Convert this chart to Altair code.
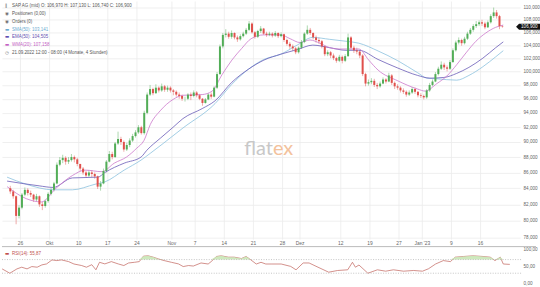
import altair as alt
import pandas as pd

# ---------------- data ----------------
first_open = 84.0
# two bars per trading day, day 0 = 22.09.2022
closes = [
    83.6, 83.0, 80.6, 81.6, 83.2, 83.8, 83.4, 83.2, 82.6, 83.0,
    82.0, 81.8, 82.4, 83.3, 83.8, 84.6, 87.0, 87.6, 87.9, 87.4,
    87.6, 88.0, 87.7, 87.1, 86.5, 86.0, 85.6, 86.0, 85.8, 85.5,
    84.2, 84.6, 86.2, 87.4, 88.4, 88.0, 89.8, 90.4, 90.0, 89.0,
    89.6, 90.2, 90.8, 91.3, 92.0, 91.2, 94.0, 96.6, 97.4, 96.8,
    97.6, 97.2, 97.8, 97.3, 97.6, 97.2, 97.0, 96.6, 96.4, 96.0,
    96.0, 96.6, 96.4, 96.9, 96.5, 96.0, 95.4, 95.9, 96.6, 96.3,
    97.6, 99.6, 103.8, 105.6, 105.8, 105.3, 105.9, 105.2, 104.9, 105.4,
    105.8, 106.4, 107.4, 106.0, 105.3, 106.2, 106.6, 105.8, 105.6, 105.8,
    105.5, 105.9, 105.4, 105.7, 104.8, 104.2, 103.8, 103.5, 102.9, 103.6,
    104.5, 105.8, 106.4, 105.9, 105.2, 104.8, 104.6, 103.8, 102.6, 102.9,
    102.4, 102.0, 101.6, 102.2, 101.6, 102.3, 105.2, 103.6, 103.2, 103.0,
    102.4, 99.6, 98.2, 98.4, 98.6, 98.0, 97.8, 98.2, 98.8, 98.5,
    99.4, 98.3, 97.8, 97.6, 97.2, 97.0, 96.6, 96.9, 97.4, 97.0,
    96.5, 96.4, 96.2, 97.2, 98.0, 98.5, 99.6, 100.4, 101.0, 100.6,
    100.4, 101.4, 103.2, 104.4, 104.8, 104.3, 105.0, 105.8, 106.4, 107.0,
    107.3, 107.6, 107.4, 106.8, 107.6, 108.6, 109.2, 108.6, 106.97, 106.9,
]
highs = [
    84.3, 83.8, 83.1, 81.9, 83.4, 84.1, 84.0, 83.7, 83.3, 83.3,
    83.1, 82.3, 82.6, 83.5, 84.0, 84.8, 87.3, 88.0, 88.3, 88.1,
    88.0, 88.4, 88.2, 87.9, 87.1, 86.7, 86.2, 86.3, 86.3, 86.0,
    85.6, 84.9, 86.5, 87.6, 88.8, 88.7, 90.0, 91.4, 90.7, 90.2,
    89.9, 90.5, 91.1, 91.6, 92.3, 92.2, 94.3, 96.9, 98.0, 97.6,
    98.1, 97.8, 98.2, 98.0, 97.9, 97.8, 97.4, 97.2, 96.9, 96.6,
    96.3, 96.8, 96.9, 97.2, 97.1, 96.7, 96.1, 96.1, 96.8, 96.9,
    97.8, 99.9, 104.1, 105.9, 106.5, 106.1, 106.3, 106.0, 105.5, 105.7,
    106.1, 106.7, 107.8, 107.6, 106.2, 106.4, 107.0, 106.7, 106.1, 106.1,
    106.0, 106.2, 106.0, 106.0, 105.8, 105.0, 104.5, 104.1, 103.7, 103.8,
    104.8, 106.0, 107.1, 106.7, 106.0, 105.5, 105.2, 104.8, 103.9, 103.2,
    103.1, 102.7, 102.2, 102.5, 102.4, 102.6, 105.8, 105.4, 103.9, 103.6,
    103.2, 102.6, 99.8, 98.8, 99.0, 98.9, 98.3, 98.5, 99.1, 99.0,
    99.8, 99.6, 98.5, 98.1, 97.8, 97.5, 97.2, 97.2, 97.7, 97.6,
    97.1, 96.8, 96.6, 97.4, 98.3, 98.8, 99.9, 100.7, 101.5, 101.3,
    100.9, 101.7, 103.5, 104.7, 105.2, 105.0, 105.3, 106.1, 106.7, 107.3,
    107.8, 107.9, 108.0, 107.7, 107.9, 108.9, 110.0, 109.6, 108.8, 107.13,
]
lows = [
    83.3, 82.7, 79.6, 80.3, 81.4, 83.0, 83.1, 82.9, 82.3, 82.4,
    81.7, 81.3, 81.6, 82.2, 83.1, 83.6, 84.5, 86.8, 87.2, 87.0,
    87.1, 87.4, 87.3, 86.8, 86.2, 85.7, 85.3, 85.4, 85.4, 85.2,
    83.9, 83.7, 84.5, 86.0, 87.3, 87.7, 87.9, 89.6, 89.6, 88.7,
    88.8, 89.3, 90.0, 90.6, 91.1, 91.0, 91.0, 93.8, 96.4, 96.5,
    96.7, 96.9, 97.0, 97.0, 97.0, 96.9, 96.5, 96.3, 96.0, 95.7,
    95.6, 95.8, 95.8, 96.2, 96.2, 95.8, 95.0, 95.3, 95.8, 96.0,
    96.2, 97.4, 99.5, 103.5, 105.2, 105.0, 105.0, 104.9, 104.5, 104.7,
    105.2, 105.6, 106.2, 105.8, 105.0, 105.1, 105.9, 105.6, 105.3, 105.4,
    105.2, 105.3, 105.1, 105.2, 104.5, 103.9, 103.4, 103.1, 102.6, 102.7,
    103.4, 104.3, 105.6, 105.6, 104.9, 104.4, 104.2, 103.5, 102.3, 102.3,
    102.0, 101.7, 101.3, 101.4, 101.2, 101.4, 102.2, 103.3, 102.8, 102.6,
    102.0, 99.3, 97.8, 97.9, 98.1, 97.7, 97.4, 97.6, 98.1, 98.2,
    98.4, 98.0, 97.4, 97.3, 96.9, 96.7, 96.3, 96.4, 96.7, 96.7,
    96.2, 96.1, 95.9, 96.0, 97.0, 97.8, 98.4, 99.4, 100.2, 100.2,
    100.0, 100.2, 101.3, 103.0, 104.1, 103.9, 104.1, 104.8, 105.6, 106.1,
    106.7, 107.0, 107.0, 106.5, 106.7, 107.4, 108.3, 108.2, 106.5, 106.74,
]

wma_days = [-0.3, 3.0, 5.6, 8.1, 10.9, 13.1, 16.0, 18.1, 20.2, 22.0, 23.2, 24.3, 26.0, 28.2,
            29.9, 33.2, 34.9, 36.6, 38.3, 40.0, 41.6, 43.8, 46.7, 48.3, 50.0, 51.7, 53.4,
            55.1, 56.7, 60.1, 61.8, 63.4, 66.8, 70.2, 71.5, 73.5, 75.2, 76.9, 78.5, 80.2,
            81.9, 83.6, 84.9]
wma_vals = [84.2, 82.7, 82.3, 84.0, 85.6, 86.3, 86.1, 87.2, 88.0, 89.2, 90.2, 92.4, 94.3, 95.9,
            96.5, 96.6, 97.1, 99.5, 101.7, 103.5, 105.0, 105.6, 105.6, 105.0, 104.4, 104.8, 104.3,
            103.6, 103.4, 103.4, 101.7, 100.2, 98.6, 97.4, 97.1, 98.2, 99.3, 101.0, 102.8, 104.6,
            105.9, 106.8, 107.158]

ema_days = [-0.3, 5.2, 7.6, 10.9, 15.3, 16.5, 19.8, 22.7, 23.7, 26.0, 28.2, 29.9, 33.2, 35.4,
            38.3, 41.1, 43.8, 46.7, 49.5, 52.2, 55.1, 57.9, 60.1, 63.4, 66.8, 70.2, 72.3,
            74.7, 76.9, 79.0, 81.4, 83.6, 84.9]
ema_vals = [84.9, 84.3, 84.1, 85.3, 85.4, 86.0, 87.2, 88.0, 88.9, 90.5, 92.0, 93.2, 94.6, 95.7,
            98.4, 100.3, 101.7, 102.6, 103.3, 104.0, 103.6, 103.2, 103.2, 101.8, 100.5, 99.4, 99.0,
            99.1, 99.7, 100.6, 102.0, 103.6, 104.505]

sma_days = [-0.3, 3.0, 7.6, 10.9, 14.8, 16.5, 19.8, 22.7, 24.3, 26.5, 29.9, 35.4, 38.3, 41.1,
            43.8, 46.7, 49.5, 52.2, 55.1, 57.9, 60.1, 63.4, 66.8, 70.2, 71.8, 73.5, 76.9,
            79.0, 81.4, 83.6, 84.9]
sma_vals = [85.4, 84.5, 83.8, 83.8, 84.5, 84.8, 86.3, 87.6, 88.5, 89.8, 91.9, 95.3, 98.1, 100.3,
            101.8, 102.6, 104.0, 105.2, 104.9, 104.6, 104.3, 103.1, 101.6, 99.8, 99.0, 98.9, 98.7,
            99.4, 100.7, 102.2, 103.141]

rsi_days = [-0.3, 1.0, 2.2, 3.0, 3.9, 4.7, 5.6, 6.4, 7.2, 8.1, 8.9, 9.7, 10.9, 11.8, 13.1, 13.9,
            14.8, 15.5, 16.1, 17.0, 18.1, 19.3, 20.2, 21.0, 22.0, 22.8, 23.5, 24.3, 25.2, 26.0,
            27.0, 28.2, 29.4, 30.2, 31.1, 31.9, 33.2, 34.4, 34.9, 35.8, 36.6, 37.8, 38.8, 40.0,
            40.8, 41.6, 42.5, 43.3, 44.1, 45.0, 46.7, 48.3, 49.2, 50.4, 51.4, 52.9, 54.7, 56.2,
            57.9, 58.7, 59.2, 59.8, 61.3, 62.9, 64.3, 65.6, 67.3, 69.0, 70.5, 71.5, 72.7, 74.0,
            75.2, 76.0, 77.4, 79.0, 80.7, 81.9, 82.7, 83.6, 84.1, 85.2]
rsi_vals = [42.7, 30.0, 42.7, 47.6, 42.7, 49.5, 47.6, 54.4, 57.3, 69.0, 67.0, 69.0, 64.0, 57.0, 52.5, 47.6,
            55.0, 40.0, 62.0, 57.3, 64.0, 57.0, 52.5, 60.0, 62.0, 64.0, 80.0, 81.0, 76.7, 72.0,
            67.0, 62.0, 57.3, 49.5, 52.5, 51.0, 60.0, 57.0, 64.0, 79.0, 81.0, 77.0, 77.0, 73.0,
            79.0, 69.0, 57.0, 62.0, 57.0, 57.0, 57.0, 50.0, 40.0, 60.0, 60.0, 47.6, 33.0, 38.0,
            40.0, 62.0, 47.6, 54.0, 30.0, 40.0, 36.0, 40.0, 36.0, 38.0, 36.0, 43.0, 57.0, 67.0,
            64.0, 77.0, 79.0, 81.0, 79.0, 77.0, 67.0, 77.0, 57.0, 55.87]

tick_days = [2, 7, 12, 17, 22, 28, 32, 37, 42, 47, 50, 57, 62, 67, 71, 76, 81]
tick_labels = ["26", "Okt", "10", "17", "24", "Nov", "7", "14", "21", "28", "Dez",
               "12", "19", "27", "Jan '23", "9", "16"]
price_ticks = list(range(78, 111, 2))
rsi_ticks = [0, 50, 100]
rsi_levels = [70, 30]

legend_rows = [
    ("‖", "SAP AG (mid)  O: 106,970  H: 107,130  L: 106,740  C: 106,900", "#666666", "#555555"),
    ("◉", "Positionen (0,00)", "#666666", "#555555"),
    ("◉", "Orders (0)", "#666666", "#555555"),
    ("▬", "SMA(50): 103,141", "#6aaad0", "#6aaad0"),
    ("▬", "EMA(50): 104,505", "#5f4fb0", "#5f4fb0"),
    ("▬", "WMA(20): 107,158", "#c462c4", "#c462c4"),
    ("◷", "21.09.2022 12:00 - 08:00  (4 Monate, 4 Stunden)", "#666666", "#555555"),
]
legend_y = [4.7, 12.5, 20.3, 28.1, 35.9, 43.7, 51.5]

# ---------------- build ----------------
FONT = "Liberation Sans"
W, H1, H2 = 520, 246, 41
GREEN, RED = "#52ad57", "#e0504c"

n = len(closes)
opens = [first_open] + closes[:-1]
bars = pd.DataFrame({
    "t": [i // 2 + 0.25 + 0.5 * (i % 2) for i in range(n)],
    "open": opens, "close": closes,
    "high": [max(h, o, c) for h, o, c in zip(highs, opens, closes)],
    "low": [min(l, o, c) for l, o, c in zip(lows, opens, closes)],
})

xs = alt.Scale(domain=[-0.32, 86.93], nice=False, zero=False)
ys = alt.Scale(type="log", domain=[76.99, 110.99], nice=False, zero=False)
rs = alt.Scale(domain=[-11.7, 107.9], nice=False, zero=False)
X = alt.X("t:Q", scale=xs, axis=None)
candle_col = alt.condition("datum.close >= datum.open", alt.value(GREEN), alt.value(RED))

price_axis = alt.Axis(
    orient="right", values=price_ticks, grid=True, gridColor="#ebebeb", gridWidth=0.8,
    domain=False, ticks=False, labelFontSize=4.6, labelColor="#666666", labelFont=FONT,
    labelPadding=3, title=None,
    labelExpr="replace(format(datum.value, '.3f'), '.', ',')",
)
rsi_axis = alt.Axis(orient="right", values=rsi_ticks, grid=False, domain=False, ticks=False,
                    labelFontSize=4.6, labelColor="#666666", labelFont=FONT, labelPadding=3,
                    title=None, labelExpr="replace(format(datum.value, '.2f'), '.', ',')")


def PY(field):
    return alt.Y(field, scale=ys, axis=price_axis)


def RY(field):
    return alt.Y(field, scale=rs, axis=rsi_axis)


wicks = alt.Chart(bars).mark_rule(strokeWidth=0.6, opacity=0.8).encode(
    x=X, y=PY("low:Q"), y2="high:Q", color=candle_col)
bodies = alt.Chart(bars).mark_bar(width=2).encode(
    x=X, y=PY("open:Q"), y2="close:Q", color=candle_col)

vgrid = alt.Chart(pd.DataFrame({"t": tick_days})).mark_rule(color="#ebebeb", strokeWidth=0.8).encode(
    x=X, y=alt.value(0), y2=alt.value(239))

wm = pd.DataFrame({"a": ["flat"], "b": ["ex"]})
wm1 = alt.Chart(wm).mark_text(align="right", baseline="middle", fontSize=20, font="Lato",
                              color="#c8c8c8").encode(
    text="a:N", x=alt.value(272), y=alt.value(148))
wm2 = alt.Chart(wm).mark_text(align="left", baseline="middle", fontSize=20, font="Lato",
                              color="#f3c29c").encode(
    text="b:N", x=alt.value(272), y=alt.value(148))


def ma_line(days, vals, color):
    d = pd.DataFrame({"t": days, "v": vals})
    return alt.Chart(d).mark_line(interpolate="monotone", strokeWidth=0.8, color=color).encode(
        x=X, y=PY("v:Q"))


sma_l = ma_line(sma_days, sma_vals, "#8cc2de")
ema_l = ma_line(ema_days, ema_vals, "#6a5cb8")
wma_l = ma_line(wma_days, wma_vals, "#cc78cc")

xlab = alt.Chart(pd.DataFrame({"t": tick_days, "l": tick_labels})).mark_text(
    fontSize=4.9, font=FONT, color="#666666", baseline="middle").encode(
    x=X, y=alt.value(243), text="l:N")


def txt(s, x, y, color, size=4.5, font=FONT, align="left"):
    return alt.Chart(pd.DataFrame({"s": [s]})).mark_text(
        align=align, baseline="middle", fontSize=size, font=font, color=color).encode(
        text="s:N", x=alt.value(x), y=alt.value(y))


leg = []
for (icon, s, icol, tcol), y in zip(legend_rows, legend_y):
    leg.append(txt(icon, 3, y, icol, size=4.5, font="DejaVu Sans"))
    leg.append(txt(s, 10, y, tcol))

last = pd.DataFrame({"p": [closes[-1]], "s": [f"{closes[-1]:.3f}".replace(".", ",")]})
tag = alt.Chart(last).mark_point(
    shape="M-1,0 L-0.75,-0.25 L1,-0.25 L1,0.25 L-0.75,0.25 Z", size=576, filled=True,
    color="#111111", opacity=1, strokeWidth=0).encode(
    x=alt.value(528), y=PY("p:Q"))
tagtxt = alt.Chart(last).mark_text(align="left", baseline="middle", fontSize=4.6, font=FONT,
                                   color="white").encode(
    x=alt.value(521), y=PY("p:Q"), text="s:N")

price = alt.layer(wicks, vgrid, wm1, wm2, sma_l, ema_l, wma_l, bodies, xlab, *leg, tag, tagtxt
                  ).properties(width=W, height=H1)

# RSI panel
rsi = pd.DataFrame({"t": rsi_days, "r": rsi_vals})
rsi["hi"] = [max(v, 70) for v in rsi_vals]
sep = alt.Chart(pd.DataFrame({"a": [0]})).mark_rule(color="#a8a8a8", strokeWidth=0.8).encode(
    y=alt.value(0), x=alt.value(0), x2=alt.value(536))
lev = alt.Chart(pd.DataFrame({"v": rsi_levels})).mark_rule(
    color="#a0a0a0", strokeWidth=0.6, strokeDash=[1, 1.5]).encode(
    y=RY("v:Q"), x=alt.value(0), x2=alt.value(522))
rarea = alt.Chart(rsi).mark_area(color="#c9e7b6", opacity=0.9).encode(
    x=X, y=RY("hi:Q"), y2=alt.datum(70))
rline = alt.Chart(rsi).mark_line(color="#c0605a", strokeWidth=0.7).encode(
    x=X, y=RY("r:Q"))
rl1 = txt("▬", 3, 7, "#c0504d", size=4.5, font="DejaVu Sans")
rl2 = txt("RSI(14): 55,87", 10, 7, "#c0504d")

rsi_chart = alt.layer(rline, rarea, lev, sep, rl1, rl2).properties(width=W, height=H2)

chart = alt.vconcat(price, rsi_chart, spacing=0, bounds="flush").properties(
    padding=0, background="white").configure_view(stroke=None)

chart.save("out.html", embed_options={"renderer": "svg", "actions": False})
